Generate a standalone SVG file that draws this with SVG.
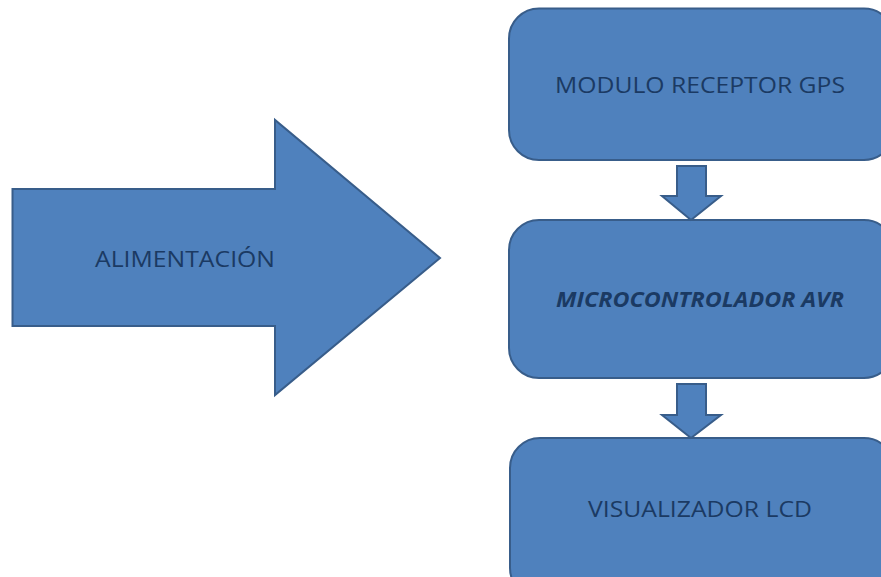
<svg xmlns="http://www.w3.org/2000/svg" width="881" height="577" viewBox="0 0 881 577">
<style>
.shape{fill:#4F81BD;stroke:#385D8A;stroke-width:2;stroke-linejoin:miter}
.lbl{font-family:"Open Sans","Liberation Sans",sans-serif;font-size:21.5px;fill:#1B3A63}
.it{font-style:italic;font-weight:bold}
</style>
<rect width="881" height="577" fill="#FFFFFF"/>
<g id="alimentacion">
<polygon class="shape" points="12.5,189 275,189 275,120 440,258 275,395 275,326 12.5,326"/>
<text class="lbl" x="95" y="266.5" textLength="180" lengthAdjust="spacingAndGlyphs">ALIMENTACIÓN</text>
</g>
<g id="gps">
<rect class="shape" x="509" y="8.5" width="385" height="151.5" rx="30" ry="30"/>
<text class="lbl" x="555" y="93" textLength="290" lengthAdjust="spacingAndGlyphs">MODULO RECEPTOR GPS</text>
</g>
<g id="avr">
<rect class="shape" x="509" y="220" width="385" height="158" rx="30" ry="30"/>
<text class="lbl it" x="556" y="307" textLength="288" lengthAdjust="spacingAndGlyphs">MICROCONTROLADOR AVR</text>
</g>
<g id="lcd">
<rect class="shape" x="510" y="438" width="384" height="160" rx="30" ry="30"/>
<text class="lbl" x="588" y="517" textLength="224" lengthAdjust="spacingAndGlyphs">VISUALIZADOR LCD</text>
</g>
<g id="connectors">
<polygon class="shape" points="677,166 706,166 706,196 721,196 691,220 662,196 677,196"/>
<polygon class="shape" points="677,384 706,384 706,415 721,415 691,438 662,415 677,415"/>
</g>
</svg>
